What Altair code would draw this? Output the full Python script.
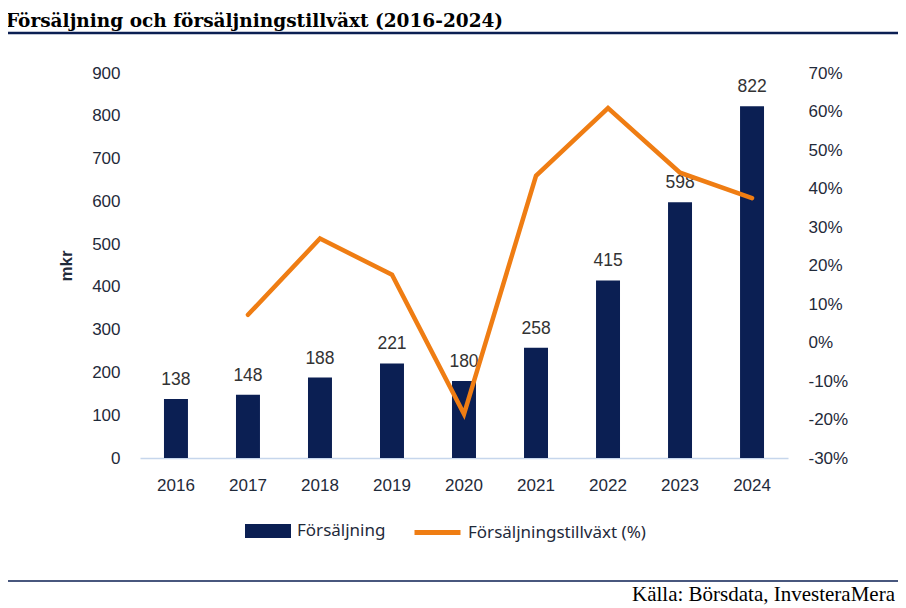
import altair as alt
import pandas as pd

years = ["2016", "2017", "2018", "2019", "2020", "2021", "2022", "2023", "2024"]
sales = [138, 148, 188, 221, 180, 258, 415, 598, 822]
growth_years = ["2017", "2018", "2019", "2020", "2021", "2022", "2023", "2024"]
growth = [7.2, 27.0, 17.6, -18.6, 43.3, 60.9, 44.1, 37.5]
left_ticks = [0, 100, 200, 300, 400, 500, 600, 700, 800, 900]
right_ticks = [-30, -20, -10, 0, 10, 20, 30, 40, 50, 60, 70]

NAVY = "#0b1f53"
ORANGE = "#ef7d13"
TXT = "#1f2a3a"

bar_df = pd.DataFrame({"year": years, "sales": sales, "serie": "Försäljning"})
line_df = pd.DataFrame({"year": growth_years, "growth": growth, "serie2": "Försäljningstillväxt (%)"})
one = pd.DataFrame({"a": [0]})

xenc = alt.X("year:N", sort=years, scale=alt.Scale(domain=years, paddingInner=0.667, paddingOuter=0.333),
             axis=alt.Axis(title=None, labelFontSize=17, labelFont="Liberation Sans", labelColor=TXT,
                           domainColor="#c6d6ec", domainWidth=1.5, ticks=False, labelPadding=19, labelAngle=0,
                           grid=False))

yleft = alt.Y("sales:Q", scale=alt.Scale(domain=[0, 900], nice=False),
              axis=alt.Axis(values=left_ticks, title="mkr", titleFontSize=17, titleFont="Liberation Sans",
                            titleFontWeight="bold", titleColor=TXT, titlePadding=16, labelFontSize=17,
                            labelFont="Liberation Sans", labelColor=TXT, domain=False, ticks=False, grid=False,
                            labelPadding=20))

bars = alt.Chart(bar_df).mark_bar().encode(
    x=xenc,
    y=yleft,
    color=alt.Color("serie:N", scale=alt.Scale(domain=["Försäljning"], range=[NAVY]),
                    legend=alt.Legend(orient="none", legendX=104, legendY=434, title=None,
                                      symbolType="M-1,-0.3H1V0.3H-1Z", symbolSize=2116,
                                      labelFontSize=17, labelFont="Noto Sans", labelColor=TXT,
                                      padding=0, labelOffset=5, symbolOpacity=1, labelLimit=300)),
)
labels = alt.Chart(bar_df).mark_text(baseline="bottom", dy=-10, fontSize=17.5, font="Liberation Sans",
                                      color="#333333").encode(
    x=alt.X("year:N", sort=years),
    y=alt.Y("sales:Q", scale=alt.Scale(domain=[0, 900], nice=False), axis=None),
    text="sales:Q")

line = alt.Chart(line_df).mark_line(strokeWidth=4.5, strokeCap="round").encode(
    x=alt.X("year:N", sort=years),
    y=alt.Y("growth:Q", scale=alt.Scale(domain=[-30, 70], nice=False),
            axis=alt.Axis(orient="right", values=right_ticks, labelExpr="datum.value + '%'", title=None,
                          labelFontSize=17, labelFont="Liberation Sans", labelColor=TXT, domain=False,
                          ticks=False, grid=False, labelPadding=20)),
    stroke=alt.Stroke("serie2:N", scale=alt.Scale(domain=["Försäljningstillväxt (%)"], range=[ORANGE]),
                      legend=alt.Legend(orient="none", legendX=272, legendY=434, title=None,
                                        symbolType="stroke", symbolSize=2116, symbolStrokeWidth=5,
                                        labelFontSize=17, labelFont="Noto Sans", labelColor=TXT,
                                        padding=0, labelOffset=5, labelLimit=300)),
)

title = alt.Chart(one).mark_text(text="Försäljning och försäljningstillväxt (2016-2024)", align="left",
                                 baseline="alphabetic", font="DejaVu Serif", fontSize=18.5,
                                 fontWeight="bold", color="#000000").encode(
    x=alt.value(-134), y=alt.value(-46))
top_rule = alt.Chart(one).mark_rule(color=NAVY, strokeWidth=2.5).encode(
    x=alt.value(-135), x2=alt.value(760), y=alt.value(-40))
bottom_rule = alt.Chart(one).mark_rule(color=NAVY, strokeWidth=1.5).encode(
    x=alt.value(-140), x2=alt.value(766), y=alt.value(508))
footer = alt.Chart(one).mark_text(text="Källa: Börsdata, InvesteraMera", align="right", baseline="middle",
                                  font="Liberation Serif", fontSize=21, color="#000000").encode(
    x=alt.value(755), y=alt.value(522))

chart = alt.layer(bars, labels, line, title, top_rule, bottom_rule, footer).resolve_scale(
    y="independent"
).properties(
    width=648, height=385,
    background="white",
    autosize=alt.AutoSizeParams(type="none"),
    padding={"left": 132, "top": 65, "right": 110, "bottom": 148},
).configure_view(stroke=None, strokeWidth=0).configure_axis(grid=False)

chart.save("out.html", embed_options={"renderer": "svg", "actions": False})
